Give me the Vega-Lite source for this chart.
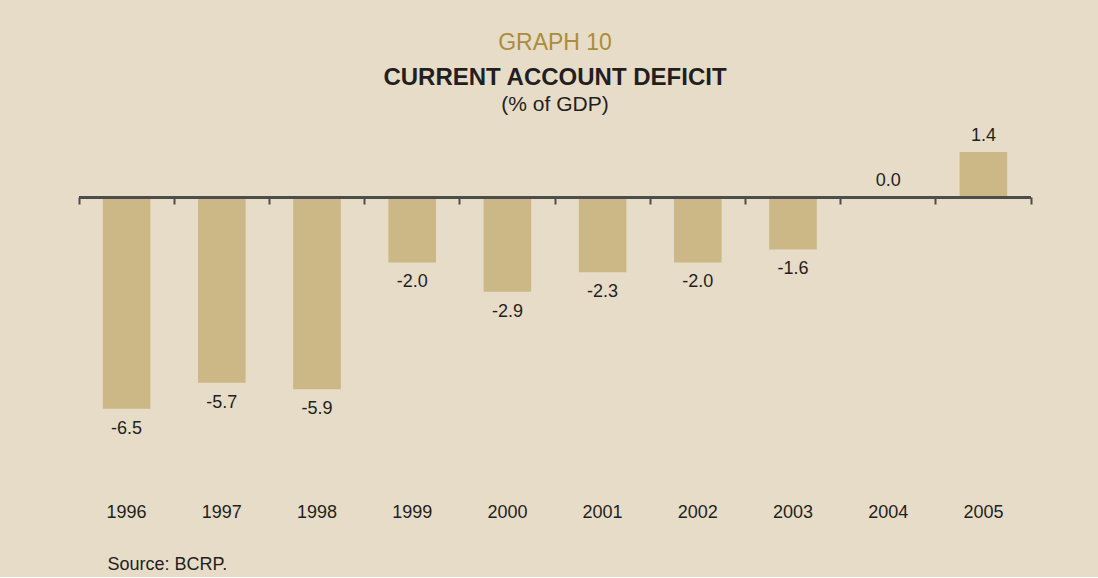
{
  "$schema": "https://vega.github.io/schema/vega-lite/v6.json",
  "background": "#e7dcc8",
  "padding": {"left": 78, "right": 68, "top": 32, "bottom": 4},
  "title": {
    "text": "GRAPH 10",
    "font": "Liberation Sans",
    "fontSize": 23,
    "fontWeight": "normal",
    "color": "#a98d3c",
    "anchor": "middle",
    "offset": 11
  },
  "config": {
    "view": {"stroke": null},
    "font": "Liberation Sans"
  },
  "data": {
    "values": [
      {"year": "1996", "value": -6.5, "label": "-6.5"},
      {"year": "1997", "value": -5.7, "label": "-5.7"},
      {"year": "1998", "value": -5.9, "label": "-5.9"},
      {"year": "1999", "value": -2.0, "label": "-2.0"},
      {"year": "2000", "value": -2.9, "label": "-2.9"},
      {"year": "2001", "value": -2.3, "label": "-2.3"},
      {"year": "2002", "value": -2.0, "label": "-2.0"},
      {"year": "2003", "value": -1.6, "label": "-1.6"},
      {"year": "2004", "value": 0.0, "label": "0.0"},
      {"year": "2005", "value": 1.4, "label": "1.4"}
    ]
  },
  "vconcat": [
    {
      "width": 952,
      "height": 372,
      "title": {
        "text": "CURRENT ACCOUNT DEFICIT",
        "subtitle": "(% of GDP)",
        "font": "Liberation Sans",
        "fontSize": 24,
        "fontWeight": "bold",
        "color": "#231f20",
        "subtitleFont": "Liberation Sans",
        "subtitleFontSize": 21,
        "subtitleColor": "#231f20",
        "subtitlePadding": 4,
        "anchor": "middle",
        "offset": 10
      },
      "layer": [
        {
          "mark": {"type": "bar", "color": "#cbb886"},
          "encoding": {
            "x": {
              "field": "year",
              "type": "ordinal",
              "sort": null,
              "scale": {"paddingInner": 0.5, "paddingOuter": 0.25},
              "axis": {
                "orient": "bottom",
                "domain": false,
                "ticks": false,
                "tickSize": 0,
                "labelAngle": 0,
                "labelFontSize": 18,
                "labelColor": "#231f20",
                "labelBaseline": "top",
                "labelPadding": 6,
                "title": "Source: BCRP.",
                "titleFontSize": 18,
                "titleFontWeight": "normal",
                "titleColor": "#231f20",
                "titleAnchor": "start",
                "titleAlign": "left",
                "titleBaseline": "alphabetic",
                "titleX": 28,
                "titleY": 72
              }
            },
            "y": {
              "field": "value",
              "type": "quantitative",
              "scale": {"domain": [-9.215, 2.23], "nice": false, "zero": false},
              "axis": null
            }
          }
        },
        {
          "mark": {"type": "rule", "color": "#4d4d4d", "strokeWidth": 2},
          "encoding": {"y": {"datum": 0}}
        },
        {
          "transform": [{"filter": "datum.value >= 0"}],
          "mark": {"type": "text", "fontSize": 18, "color": "#231f20", "baseline": "bottom", "dy": -7},
          "encoding": {
            "x": {
              "field": "year",
              "type": "ordinal",
              "sort": null,
              "axis": {
                "orient": "top",
                "offset": -72,
                "domain": false,
                "labels": false,
                "grid": false,
                "ticks": true,
                "tickSize": -7,
                "tickWidth": 2,
                "tickColor": "#4d4d4d",
                "bandPosition": -0.5,
                "title": null
              }
            },
            "y": {"field": "value", "type": "quantitative"},
            "text": {"field": "label", "type": "nominal"}
          }
        },
        {
          "transform": [{"filter": "datum.value < 0"}],
          "mark": {"type": "text", "fontSize": 18, "color": "#231f20", "baseline": "top", "dy": 11},
          "encoding": {
            "x": {
              "field": "year",
              "type": "ordinal",
              "sort": null,
              "axis": {
                "orient": "top",
                "offset": -72,
                "values": ["2005"],
                "domain": false,
                "labels": false,
                "grid": false,
                "ticks": true,
                "tickSize": -7,
                "tickWidth": 2,
                "tickColor": "#4d4d4d",
                "bandPosition": 1.5,
                "title": null
              }
            },
            "y": {"field": "value", "type": "quantitative"},
            "text": {"field": "label", "type": "nominal"}
          }
        }
      ],
      "resolve": {"axis": {"x": "independent"}}
    }
  ]
}
